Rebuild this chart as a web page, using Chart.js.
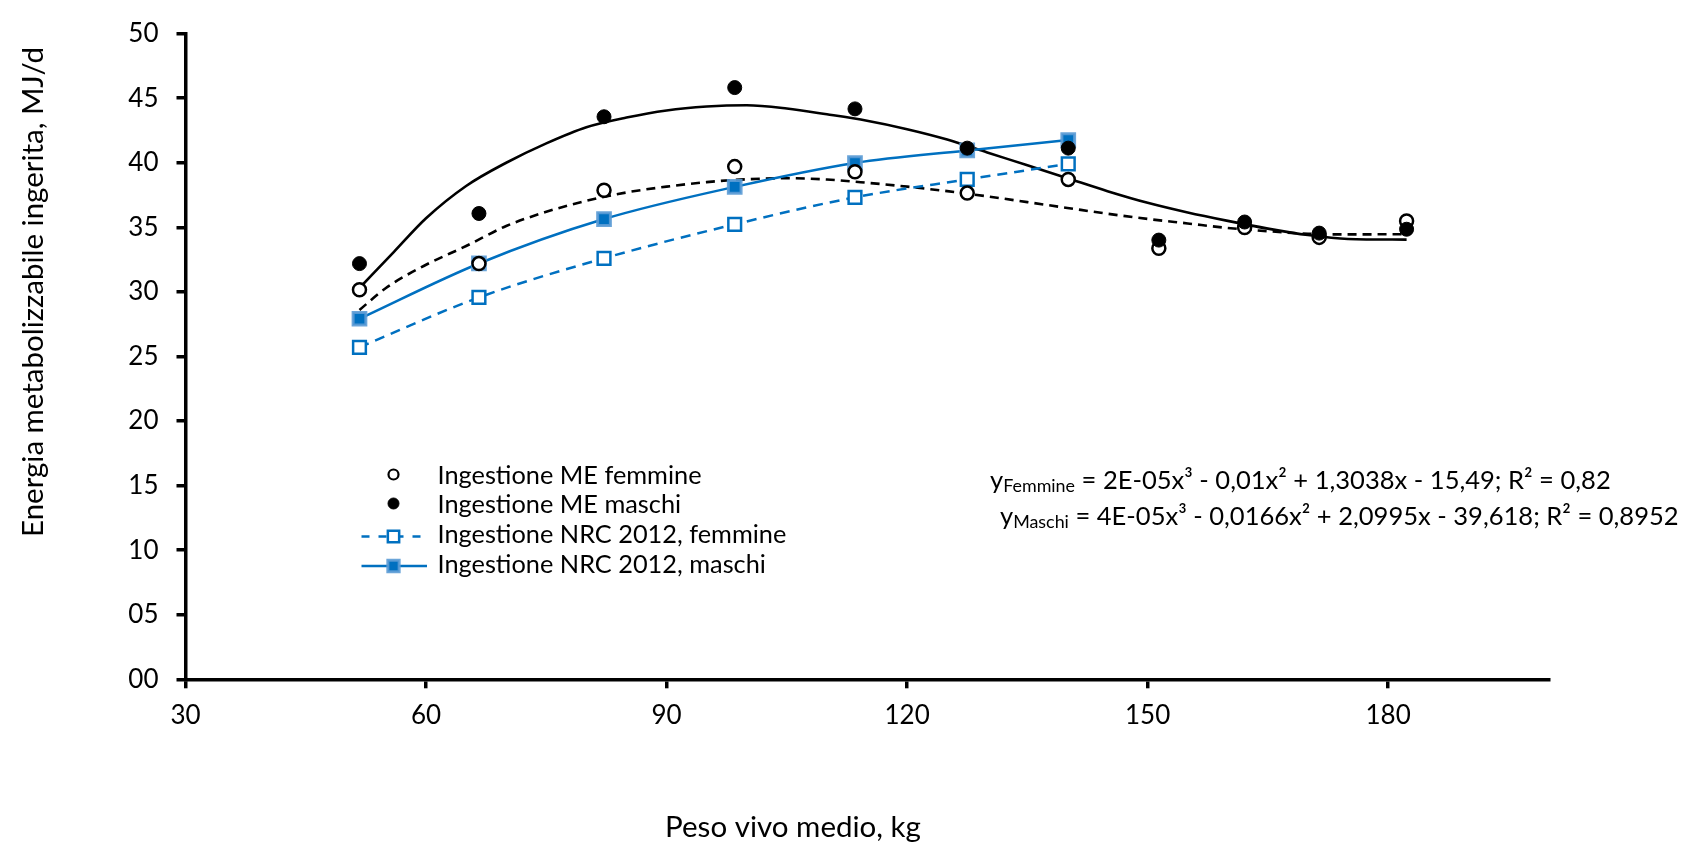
<!DOCTYPE html>
<html>
<head>
<meta charset="utf-8">
<script src="https://cdn.jsdelivr.net/npm/chart.js@4.4.1/dist/chart.umd.min.js"></script>
<style>
  html, body { margin: 0; padding: 0; background: #ffffff; }
  #wrap { width: 1696px; height: 844px; position: relative; }
</style>
</head>
<body>
<div id="wrap"><canvas id="c" width="1696" height="844"></canvas></div>
<script>
// ---------------- DATA ----------------
const peso = [51.7, 66.6, 82.2, 98.5, 113.5, 127.5, 140.1, 151.4, 162.1, 171.4, 182.3];
const meFemmine = [30.16, 32.19, 37.87, 39.70, 39.30, 37.65, 38.71, 33.38, 34.98, 34.22, 35.49];
const meMaschi  = [32.19, 36.07, 43.56, 45.82, 44.17, 41.13, 41.13, 34.01, 35.41, 34.55, 34.85];

const pesoNRC    = [51.7, 66.6, 82.2, 98.5, 113.5, 127.5, 140.1];
const nrcFemmine = [25.71, 29.57, 32.60, 35.23, 37.32, 38.71, 39.91];
const nrcMaschi  = [27.92, 32.20, 35.64, 38.13, 39.98, 40.95, 41.76];

// polynomial trend curves as drawn in the picture
const trendMaschiX = [51.7, 56, 60, 65, 70, 75, 80, 85, 90, 95, 100, 105, 110, 115, 120, 125, 130, 135, 140, 145, 150, 155, 160, 165, 170, 175, 182.3];
const trendMaschiY = [30.3, 33.1, 35.7, 38.2, 40.0, 41.5, 42.75, 43.5, 44.05, 44.35, 44.45, 44.2, 43.75, 43.25, 42.6, 41.8, 40.8, 39.8, 38.8, 37.8, 36.9, 36.15, 35.5, 34.9, 34.4, 34.1, 34.05];
const trendFemmineX = [51.7, 55, 60, 65, 70, 75, 80, 85, 90, 95, 100, 105, 110, 115, 120, 125, 130, 135, 140, 145, 150, 155, 160, 165, 170, 175, 182.3];
const trendFemmineY = [28.6, 30.3, 32.1, 33.55, 35.1, 36.2, 37.05, 37.7, 38.15, 38.5, 38.72, 38.8, 38.7, 38.45, 38.15, 37.8, 37.4, 36.95, 36.5, 36.05, 35.65, 35.3, 34.95, 34.7, 34.5, 34.45, 34.47];

const xTicks = [30, 60, 90, 120, 150, 180];
const yTickLabels = ['00', '05', '10', '15', '20', '25', '30', '35', '40', '45', '50'];

const legendLabels = [
  'Ingestione ME femmine',
  'Ingestione ME maschi',
  'Ingestione NRC 2012, femmine',
  'Ingestione NRC 2012, maschi'
];
const eqFemmine = [['y', ''], ['Femmine', 'sub'], [' = 2E-05x\u00B3 - 0,01x\u00B2 + 1,3038x - 15,49; R\u00B2 = 0,82', '']];
const eqMaschi  = [['y', ''], ['Maschi', 'sub'], [' = 4E-05x\u00B3 - 0,0166x\u00B2 + 2,0995x - 39,618; R\u00B2 = 0,8952', '']];
const xTitle = 'Peso vivo medio, kg';
const yTitle = 'Energia metabolizzabile ingerita, MJ/d';

// ---------------- STYLE ----------------
const FONT = 'Lato, "Open Sans", "DejaVu Sans", sans-serif';
const BLUE = '#0070C0';
const BLUE_EDGE = 'rgba(91,155,213,0.9)';
const AXIS_W = 3.5;

const pts = (xs, ys) => xs.map((x, i) => ({ x: x, y: ys[i] }));

const styles = {
  meM:  { pointStyle: 'circle', radius: 7,   fill: '#000000', stroke: '#000000', bw: 1 },
  meF:  { pointStyle: 'circle', radius: 6.5, fill: '#ffffff', stroke: '#000000', bw: 2.5 },
  nrcM: { pointStyle: 'rect',   radius: 9,   fill: BLUE,      stroke: BLUE_EDGE, bw: 3 },
  nrcF: { pointStyle: 'rect',   radius: 9,   fill: '#ffffff', stroke: BLUE,      bw: 2.5 }
};

function fitSize(ctx, text, width) {
  ctx.font = '100px ' + FONT;
  return 100 * width / ctx.measureText(text).width;
}
function richWidth(ctx, segs, size) {
  let w = 0;
  for (const [t, k] of segs) {
    ctx.font = (k === 'sub' ? size * 0.7 : size) + 'px ' + FONT;
    w += ctx.measureText(t).width;
  }
  return w;
}
function drawRich(ctx, segs, x, base, size) {
  ctx.textAlign = 'left';
  ctx.textBaseline = 'alphabetic';
  for (const [t, k] of segs) {
    const s = k === 'sub' ? size * 0.7 : size;
    ctx.font = s + 'px ' + FONT;
    ctx.fillText(t, x, base + (k === 'sub' ? size * 0.13 : 0));
    x += ctx.measureText(t).width;
  }
}
function marker(ctx, st, x, y) {
  ctx.fillStyle = st.fill;
  ctx.strokeStyle = st.stroke;
  ctx.lineWidth = st.bw;
  ctx.setLineDash([]);
  Chart.helpers.drawPoint(ctx, { pointStyle: st.pointStyle, radius: st.radius, rotation: 0, borderWidth: st.bw }, x, y);
}

const annotPlugin = {
  id: 'annot',
  afterDraw(chart) {
    const ctx = chart.ctx;
    ctx.save();
    ctx.fillStyle = '#000';

    // ---- legend ----
    const lgSize = fitSize(ctx, legendLabels[2], 349);
    const rows = [
      { st: Object.assign({}, styles.meF, { radius: 5, bw: 2.2 }), my: 474.5, base: 483.5, line: null },
      { st: Object.assign({}, styles.meM, { radius: 5.5 }),        my: 503.5, base: 512.5, line: null },
      { st: Object.assign({}, styles.nrcF, { radius: 8 }), my: 536.5, base: 542.5, line: { color: BLUE, dash: [8, 9] } },
      { st: Object.assign({}, styles.nrcM, { radius: 8 }), my: 566,   base: 572.5, line: { color: BLUE, dash: [] } }
    ];
    const mx = 393.5;
    rows.forEach((r, i) => {
      if (r.line) {
        ctx.beginPath();
        ctx.strokeStyle = r.line.color;
        ctx.lineWidth = 2.5;
        ctx.setLineDash(r.line.dash);
        ctx.moveTo(361.5, r.my);
        ctx.lineTo(427, r.my);
        ctx.stroke();
      }
      marker(ctx, r.st, mx, r.my);
      ctx.fillStyle = '#000';
      ctx.font = lgSize + 'px ' + FONT;
      ctx.textAlign = 'left';
      ctx.textBaseline = 'alphabetic';
      ctx.fillText(legendLabels[i], 437.5, r.base);
    });

    // ---- equations ----
    const eqSize = 100 * 679 / richWidth(ctx, eqMaschi, 100);
    ctx.fillStyle = '#000';
    drawRich(ctx, eqFemmine, 990, 488.5, eqSize);
    drawRich(ctx, eqMaschi, 1000, 525, eqSize);

    // ---- axis titles ----
    const xs = fitSize(ctx, xTitle, 256);
    ctx.font = xs + 'px ' + FONT;
    ctx.textAlign = 'center';
    ctx.textBaseline = 'alphabetic';
    ctx.fillText(xTitle, 793, 836.5);

    const ys = fitSize(ctx, yTitle, 490);
    ctx.save();
    ctx.translate(42.5, 292);
    ctx.rotate(-Math.PI / 2);
    ctx.font = ys + 'px ' + FONT;
    ctx.textAlign = 'center';
    ctx.textBaseline = 'alphabetic';
    ctx.fillText(yTitle, 0, 0);
    ctx.restore();

    ctx.restore();
  }
};

function build() {
  const ctx = document.getElementById('c').getContext('2d');
  new Chart(ctx, {
    type: 'scatter',
    data: {
      datasets: [
        {
          label: legendLabels[1], data: pts(peso, meMaschi), showLine: false,
          pointStyle: 'circle', pointRadius: styles.meM.radius, pointBackgroundColor: '#000', pointBorderColor: '#000', pointBorderWidth: 1
        },
        {
          label: legendLabels[0], data: pts(peso, meFemmine), showLine: false,
          pointStyle: 'circle', pointRadius: styles.meF.radius, pointBackgroundColor: '#fff', pointBorderColor: '#000', pointBorderWidth: 2.5
        },
        {
          label: legendLabels[3], data: pts(pesoNRC, nrcMaschi), showLine: true,
          borderColor: BLUE, borderWidth: 2.5, cubicInterpolationMode: 'monotone',
          pointStyle: 'rect', pointRadius: styles.nrcM.radius, pointBackgroundColor: BLUE, pointBorderColor: BLUE_EDGE, pointBorderWidth: 3
        },
        {
          label: legendLabels[2], data: pts(pesoNRC, nrcFemmine), showLine: true,
          borderColor: BLUE, borderWidth: 2.5, borderDash: [10, 7], cubicInterpolationMode: 'monotone',
          pointStyle: 'rect', pointRadius: styles.nrcF.radius, pointBackgroundColor: '#fff', pointBorderColor: BLUE, pointBorderWidth: 2.5
        },
        {
          label: 'Poli. (maschi)', data: pts(trendMaschiX, trendMaschiY), showLine: true,
          borderColor: '#000', borderWidth: 2.6, cubicInterpolationMode: 'monotone', pointRadius: 0
        },
        {
          label: 'Poli. (femmine)', data: pts(trendFemmineX, trendFemmineY), showLine: true,
          borderColor: '#000', borderWidth: 2.6, borderDash: [9, 6], cubicInterpolationMode: 'monotone', pointRadius: 0
        }
      ]
    },
    options: {
      responsive: false,
      animation: false,
      devicePixelRatio: 1,
      layout: { padding: { top: 23, right: 147.5, bottom: 0, left: 0 } },
      plugins: { legend: { display: false }, tooltip: { enabled: false }, title: { display: false } },
      scales: {
        x: {
          type: 'linear', min: 30, max: 200,
          afterBuildTicks: (s) => { s.ticks = xTicks.map(v => ({ value: v })); },
          afterFit: (s) => { s.height = 844 - 679.3; },
          grid: { display: true, drawOnChartArea: false, drawTicks: true, tickLength: 9, tickWidth: AXIS_W, tickColor: '#000', color: '#000', lineWidth: AXIS_W },
          border: { display: true, color: '#000', width: AXIS_W },
          ticks: { color: '#000', font: { family: FONT, size: 26 }, padding: 12, maxRotation: 0, autoSkip: false }
        },
        y: {
          type: 'linear', min: 0, max: 50,
          afterFit: (s) => { s.width = 185.5; },
          grid: { display: true, drawOnChartArea: false, drawTicks: true, tickLength: 9, tickWidth: AXIS_W, tickColor: '#000', color: '#000', lineWidth: AXIS_W },
          border: { display: true, color: '#000', width: AXIS_W },
          ticks: { stepSize: 5, color: '#000', font: { family: FONT, size: 26 }, padding: 18, autoSkip: false,
                   callback: (v, i) => yTickLabels[i] }
        }
      }
    },
    plugins: [annotPlugin]
  });
}

if (document.fonts && document.fonts.load) {
  document.fonts.load('24px Lato').then(build, build);
} else {
  build();
}
</script>
</body>
</html>
